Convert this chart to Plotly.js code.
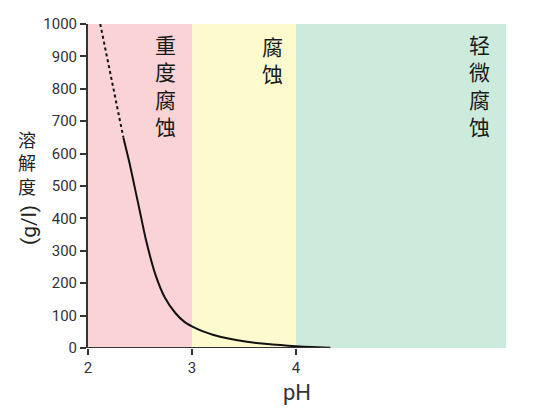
<!DOCTYPE html>
<html><head><meta charset="utf-8">
<script src="https://cdn.plot.ly/plotly-3.0.1.min.js"></script>
<style>html,body{margin:0;padding:0;background:#fff}#c{width:536px;height:412px}</style>
</head><body><div id="c"></div>
<script>
// Dotted (extrapolated) part of the solubility curve
const phDotted = [2.118, 2.18, 2.243, 2.306, 2.34];
const solDotted = [1000, 900, 800, 700, 650];
// Solid part of the curve
const phSolid = [2.34, 2.40, 2.45, 2.50, 2.56, 2.65, 2.74, 2.84, 2.93, 3.0, 3.1, 3.2, 3.35, 3.53, 3.7, 3.85, 4.0, 4.15, 4.33];
const solSolid = [650, 570, 495, 420, 330, 225, 155, 108, 80, 67, 52, 41, 29, 19, 13, 9, 5.5, 3, 1];
// Corrosion zones
const zoneStart = [2, 3, 4];
const zoneEnd = [3, 4, 6.02];
const zoneColors = ['#f9d3d5', '#fdfbcd', '#cdebdc'];
const zoneLabels = ['重度腐蚀', '腐蚀', '轻微腐蚀'];
const yTitleChars = '溶解度';
const yTitleUnit = '(g/l)';
const xTitle = 'pH';
const xTicks = [2, 3, 4];
const yTicks = [0, 100, 200, 300, 400, 500, 600, 700, 800, 900, 1000];

const traces = [
  {x: phDotted, y: solDotted, mode: 'lines', line: {color: '#111', width: 2, dash: 'dot'}, hoverinfo: 'skip'},
  {x: phSolid, y: solSolid, mode: 'lines', line: {color: '#111', width: 2, shape: 'spline', smoothing: 0.6}, hoverinfo: 'skip'}
];

const shapes = zoneStart.map((s, i) => ({
  type: 'rect', xref: 'x', yref: 'y', x0: s, x1: zoneEnd[i], y0: 0, y1: 1000,
  fillcolor: zoneColors[i], line: {width: 0}, layer: 'below'
}));
shapes.push({type: 'line', xref: 'x', yref: 'y', x0: 2, x1: 4.33, y0: 0, y1: 0, line: {color: '#333', width: 2}});

// layout helpers: pixel -> paper
const PL = 88, PW = 418, PT = 24, PH = 324;
const px = v => (v - PL) / PW;
const py = v => (PT + PH - v) / PH;
const vertical = s => Array.from(s).join('<br>');

const annotations = [];
const zoneLabelPx = [165, 272, 479];
const zoneLabelMidPy = [85, 59, 85];
zoneLabels.forEach((lab, i) => {
  annotations.push({text: vertical(lab), xref: 'paper', yref: 'paper', x: px(zoneLabelPx[i]), y: py(zoneLabelMidPy[i]),
    xanchor: 'center', yanchor: 'middle', showarrow: false, align: 'center',
    font: {family: 'Noto Sans CJK SC', size: 21, color: '#1a1a1a'}});
});
annotations.push({text: vertical(yTitleChars), xref: 'paper', yref: 'paper', x: px(27), y: py(162),
  xanchor: 'center', yanchor: 'middle', showarrow: false, align: 'center',
  font: {family: 'Noto Sans CJK SC', size: 18, color: '#222'}});
annotations.push({text: yTitleUnit, xref: 'paper', yref: 'paper', x: px(29), y: py(225), xanchor: 'center', yanchor: 'middle',
  textangle: -90, showarrow: false, font: {family: 'Roboto', size: 21, color: '#222'}});

const layout = {
  width: 536, height: 412,
  margin: {l: 88, r: 30, t: 24, b: 64},
  paper_bgcolor: '#fff', plot_bgcolor: 'rgba(0,0,0,0)',
  showlegend: false,
  xaxis: {range: [2, 6.02], tickvals: xTicks, ticktext: xTicks.map(String), showgrid: false, zeroline: false,
    showline: false, ticks: 'outside', ticklen: 6, tickwidth: 2, tickcolor: '#333',
    tickfont: {family: 'Roboto', size: 15, color: '#333'},
    title: {text: xTitle, font: {family: 'Roboto', size: 22, color: '#333'}, standoff: 8}},
  yaxis: {range: [0, 1000], tickvals: yTicks, showgrid: false, zeroline: false,
    showline: true, linecolor: '#333', linewidth: 2, ticks: 'outside', ticklen: 6, tickwidth: 2, tickcolor: '#333',
    tickfont: {family: 'Roboto', size: 15, color: '#333'}},
  shapes: shapes, annotations: annotations
};
Plotly.newPlot('c', traces, layout, {displayModeBar: false, staticPlot: true});
</script></body></html>
